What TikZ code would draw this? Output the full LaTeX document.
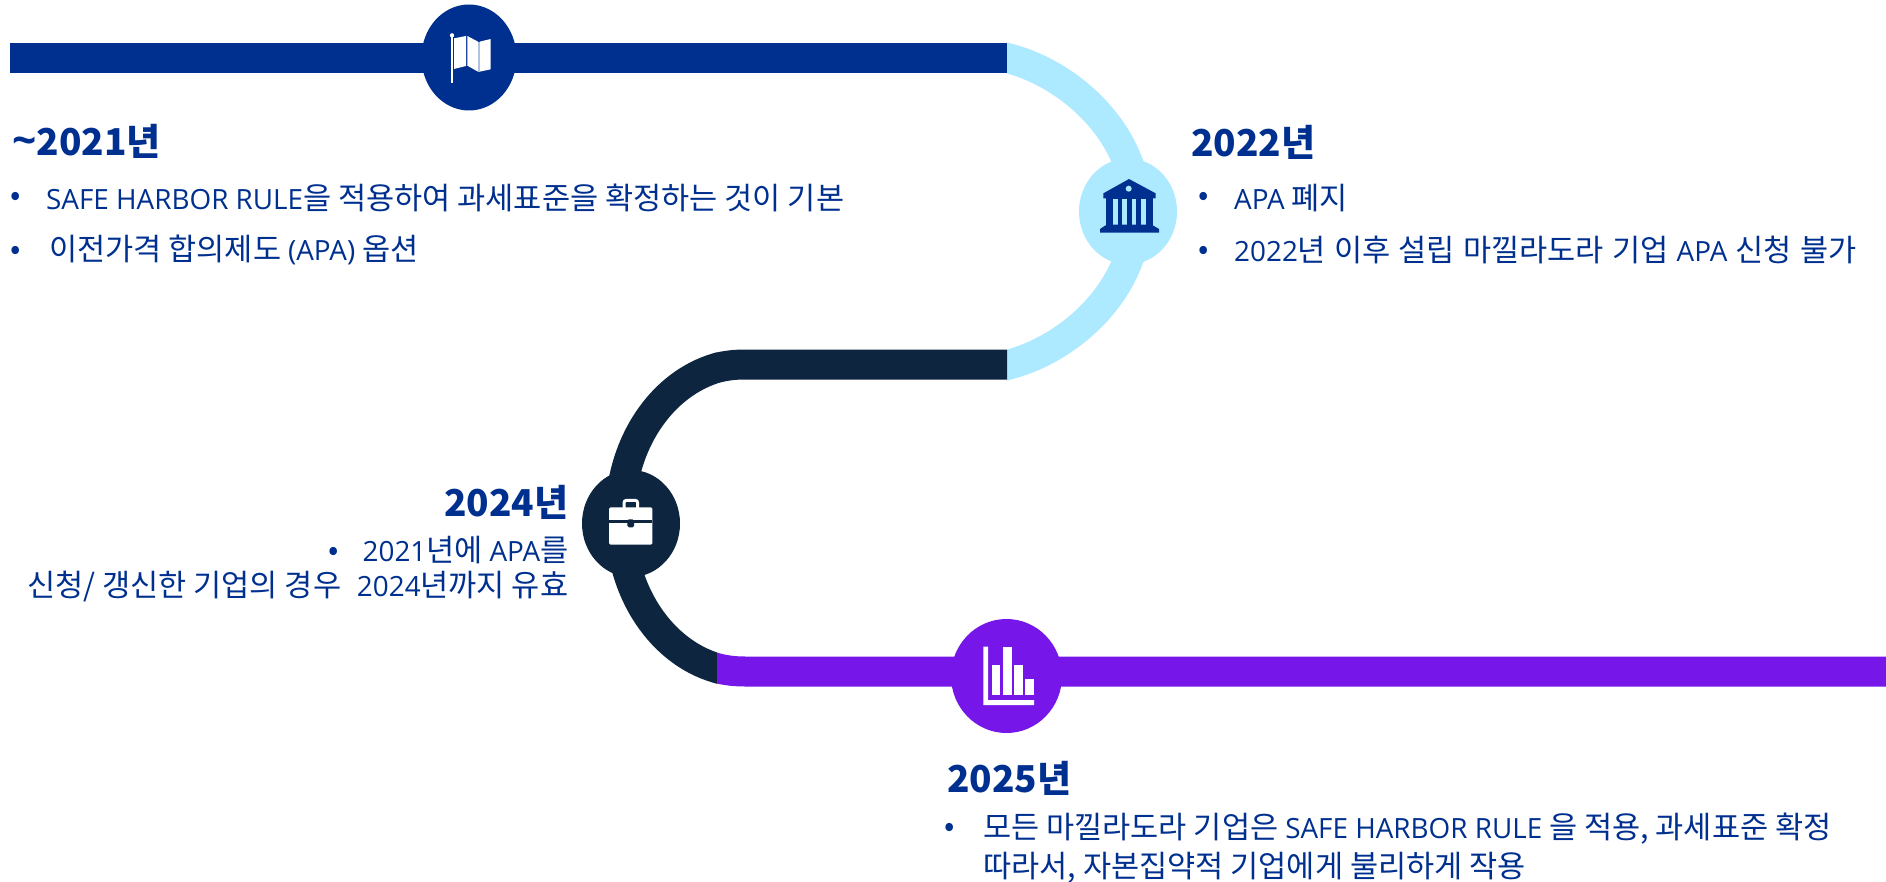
\documentclass[tikz,border=0pt]{standalone}
\usepackage{fontspec}
\setmainfont{Noto Sans CJK KR}
\newfontfamily\lt[Scale=0.91]{Open Sans}
\newfontfamily\ltb[Scale=1.15]{Open Sans}
\usetikzlibrary{shapes.geometric}
\definecolor{navy}{HTML}{00308F}
\definecolor{sky}{HTML}{AEEAFF}
\definecolor{ink}{HTML}{0D253F}
\definecolor{violet2}{HTML}{7716E8}
\tikzset{
 track/.style={line width=30pt,line cap=butt},
 head/.style={inner sep=0pt,text=navy,font=\fontsize{37}{44}\selectfont\bfseries},
 body/.style={inner sep=0pt,text=navy,font=\fontsize{30.6}{36}\selectfont},
}
\begin{document}
\begin{tikzpicture}[x=1pt,y=-1pt]
\useasboundingbox (0,0) rectangle (1886,882);
\fill[white] (0,0) rectangle (1886,882);
% junctions
\coordinate (a0) at (10,58);
\coordinate (a1) at (1007,58);
\coordinate (b1) at (1007,364.5);
\coordinate (c1) at (745,364.5);
\coordinate (c0) at (711,369.6);
\coordinate (d0) at (711,666.4);
\coordinate (d1) at (745,671.5);
\coordinate (e1) at (1886,671.5);
\coordinate (lt) at (1007,58);
\coordinate (lm) at (1137,211.5);
\coordinate (lb) at (1007,365);
\coordinate (dt) at (717,367.8);
\coordinate (dm) at (620,518);
\coordinate (db) at (717,668.2);
% light arc
\begin{scope}
\clip (1007,0) rectangle (1300,500);
\draw[track,sky] (997,55.3) -- (lt) .. controls (1068,73) and (1137,132) .. (lm)
  .. controls (1137,291) and (1068,350) .. (lb) -- (997,367.7);
\end{scope}
% dark arc
\begin{scope}
\clip (500,300) rectangle (717,750);
\draw[track,ink] (727,364.9) -- (dt) .. controls (662,383.8) and (620,443) .. (dm)
  .. controls (620,593) and (662,652.2) .. (db) -- (727,671.1);
\end{scope}
\draw[track,navy] (a0) -- (a1);
\begin{scope}
\clip (717,300) rectangle (1007,420);
\draw[track,ink] (b1) -- (c1) .. controls (733,364.5) and (722,366) .. (c0);
\end{scope}
\begin{scope}
\clip (717,600) rectangle (1886,750);
\draw[track,violet2] (e1) -- (d1) .. controls (733,671.5) and (722,670) .. (d0);
\end{scope}
% hubs
\node[ellipse,fill=navy,minimum width=95pt,minimum height=106pt,inner sep=0pt] (h1) at (469,57.5) {};
\node[ellipse,fill=sky,minimum width=98pt,minimum height=106pt,inner sep=0pt] (h2) at (1128,211.5) {};
\node[ellipse,fill=ink,minimum width=98pt,minimum height=107pt,inner sep=0pt] (h3) at (631,523.5) {};
\node[ellipse,fill=violet2,minimum width=111pt,minimum height=114pt,inner sep=0pt] (h4) at (1006.5,676) {};
% map flag
\begin{scope}[shift={(380,0)},scale=1/3]
\fill[white] (214,112) rectangle (219,250);
\fill[white] (216,106) circle (6.5);
\fill[white] (222,115) -- (258,108) -- (258,198) -- (222,207) -- cycle;
\fill[white] (262,108) -- (294,125) -- (294,215) -- (262,197) -- cycle;
\fill[white] (299,125) -- (332,117) -- (332,208) -- (299,215) -- cycle;
\fill[white!70!navy] (295,125) rectangle (299,215);
\end{scope}
% bank
\begin{scope}[shift={(980,30)},scale=1/3]
\fill[navy] (447,447) -- (527,490) -- (527,505) -- (370,505) -- (370,490) -- cycle;
\fill[sky] (446,476) circle (9);
\fill[navy] (378,505) rectangle (518,585);
\foreach \x in {399,427,455,483} \fill[sky] (\x,508) rectangle (\x+14,585);
\fill[navy] (380,584) -- (515,584) -- (537,597) -- (537,608) -- (360,608) -- (360,597) -- cycle;
\end{scope}
% briefcase
\begin{scope}[shift={(570,340)},scale=1/3]
\fill[white,rounded corners=1.5pt] (117,502) rectangle (247,614);
\draw[white,line width=3pt,rounded corners=2.5pt] (162,504) -- (162,481) -- (203,481) -- (203,504);
\fill[ink] (117,541) rectangle (247,549);
\fill[ink,rounded corners=1.5pt] (172,538) rectangle (192,562);
\end{scope}
% chart
\begin{scope}[shift={(930,600)},scale=1/3]
\fill[white] (160,140) -- (174,140) -- (174,300) -- (312,300) -- (312,315) -- (160,315) -- cycle;
\fill[white] (187,195) rectangle (210,286);
\fill[white] (220,140) rectangle (246,286);
\fill[white] (252,195) rectangle (279,286);
\fill[white] (285,237) rectangle (312,286);
\end{scope}
% texts
\node[head,anchor=west] (t1) at (12,141) {{\ltb\bfseries\char`\~}2021년};
\node[body,anchor=center] (b11) at (16,199) {•};
\node[body,anchor=west] (t11) at (46,198) {{\lt SAFE HARBOR RULE}을 적용하여 과세표준을 확정하는 것이 기본};
\node[body,anchor=center] (b12) at (16,253) {•};
\node[body,anchor=west] (t12) at (49,250) {이전가격 합의제도 {\lt (APA)} 옵션};
\node[head,anchor=west] (t2) at (1191,142) {2022년};
\node[body,anchor=center] (b21) at (1204,199) {•};
\node[body,anchor=west] (t21) at (1234,198) {{\lt APA} 폐지};
\node[body,anchor=center] (b22) at (1204,253) {•};
\node[body,anchor=west] (t22) at (1234,250) {\spaceskip=8.2pt {\lt 2022}년 이후 설립 마낄라도라 기업 {\lt APA} 신청 불가};
\node[head,anchor=east] (t3) at (568.5,502) {2024년};
\node[body,anchor=center] (b31) at (334,554) {•};
\node[body,anchor=east] (t31) at (568.5,550) {{\lt 2021}년에 {\lt APA}를};
\node[body,anchor=east] (t32) at (568.5,587) {신청/ 갱신한 기업의 경우 \ \hspace{2pt}{\lt 2024}년까지 유효};
\node[head,anchor=west] (t4) at (947,778) {2025년};
\node[body,anchor=center] (b41) at (950,830) {•};
\node[body,anchor=west] (t41) at (983,829) {모든 마낄라도라 기업은 {\lt SAFE HARBOR RULE} 을 적용, 과세표준 확정};
\node[body,anchor=west] (t42) at (983,868) {따라서, 자본집약적 기업에게 불리하게 작용};
\end{tikzpicture}
\end{document}
